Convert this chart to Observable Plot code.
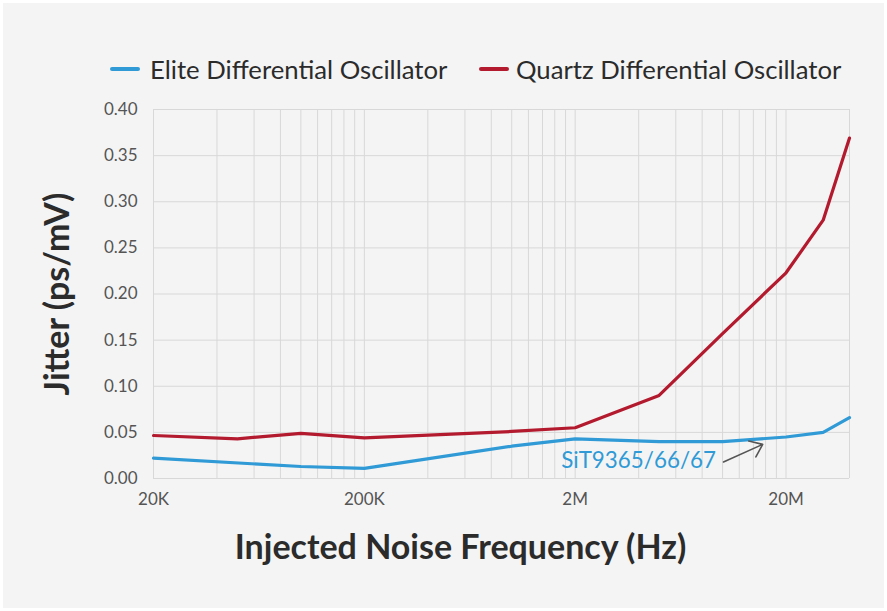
<!DOCTYPE html>
<html>
<head>
<meta charset="utf-8">
<script src="https://cdn.jsdelivr.net/npm/d3@7"></script>
<script src="https://cdn.jsdelivr.net/npm/@observablehq/plot@0.6"></script>
<style>
  html, body { margin: 0; padding: 0; background: #ffffff; }
  #page { position: relative; width: 887px; height: 611px; overflow: hidden; font-family: Lato, "Open Sans", sans-serif; }
  #panel { position: absolute; left: 3px; top: 3px; width: 881px; height: 605px; background: #f4f4f4; }
  #legend { position: absolute; left: 0; top: 0; width: 887px; height: 90px; }
  .sw { position: absolute; top: 67px; width: 30px; height: 3.5px; border-radius: 2px; }
  .lt { position: absolute; top: 55px; font-size: 25.7px; color: #2b2b2b; line-height: 28px; white-space: nowrap; }
  #chart { position: absolute; left: 0; top: 90px; }
</style>
</head>
<body>
<div id="page">
  <div id="panel"></div>
  <div id="legend"></div>
  <div id="chart"></div>
</div>
<script>
// Series names and colours
const seriesNames = ["Elite Differential Oscillator", "Quartz Differential Oscillator"];
const seriesColors = ["#2f9ad6", "#b31a2e"];

// Elite (MEMS) differential oscillator
const eliteFreq = [2e4, 1e5, 2e5, 1e6, 2e6, 5e6, 1e7, 2e7, 3e7, 4e7];
const eliteJitter = [0.022, 0.013, 0.011, 0.035, 0.043, 0.040, 0.040, 0.045, 0.050, 0.066];

// Quartz differential oscillator
const quartzFreq = [2e4, 5e4, 1e5, 2e5, 1e6, 2e6, 5e6, 1e7, 2e7, 3e7, 4e7];
const quartzJitter = [0.0466, 0.043, 0.049, 0.044, 0.051, 0.055, 0.090, 0.157, 0.223, 0.280, 0.369];

// Axes
const xDomain = [2e4, 4e7];
const xTicks = [2e4, 2e5, 2e6, 2e7];
const gridMultipliers = [1, 2, 3, 4, 5, 6, 7, 8, 9];
const yTicks = [0, 0.05, 0.10, 0.15, 0.20, 0.25, 0.30, 0.35, 0.40];
const yTitle = "Jitter (ps/mV)";
const xTitle = "Injected Noise Frequency (Hz)";

// Annotation
const annoLabel = ["SiT9365/66/67"];
const annoLabelX = [4.0e6];
const annoLabelY = [0.019];
const arrowFrom = [1.01e7, 0.018];
const arrowTo = [1.55e7, 0.037];

// Build data tables
const elite = eliteFreq.map((f, i) => ({f, j: eliteJitter[i], s: seriesNames[0]}));
const quartz = quartzFreq.map((f, i) => ({f, j: quartzJitter[i], s: seriesNames[1]}));
const gridX = xTicks.flatMap(d => gridMultipliers.map(m => d * m)).filter(v => v <= xDomain[1] * 1.0001);
const annos = annoLabel.map((t, i) => ({t, x: annoLabelX[i], y: annoLabelY[i]}));
const arrows = [{x1: arrowFrom[0], y1: arrowFrom[1], x2: arrowTo[0], y2: arrowTo[1]}];

const fmt = d => d >= 1e6 ? (d / 1e6) + "M" : (d / 1e3) + "K";

// Legend
const legend = document.getElementById("legend");
const legendPos = [[110, 150], [479, 516]];
seriesNames.forEach((n, i) => {
  const sw = document.createElement("div");
  sw.className = "sw";
  sw.style.left = legendPos[i][0] + "px";
  sw.style.background = seriesColors[i];
  legend.appendChild(sw);
  const t = document.createElement("div");
  t.className = "lt";
  t.style.left = legendPos[i][1] + "px";
  t.textContent = n;
  legend.appendChild(t);
});

const plot = Plot.plot({
  width: 887,
  height: 521,
  marginTop: 19,
  marginBottom: 133,
  marginLeft: 153,
  marginRight: 38,
  style: {background: "transparent", fontFamily: "Lato, sans-serif", fontSize: "17px", color: "#555"},
  x: {type: "log", domain: xDomain},
  y: {domain: [0, 0.4]},
  marks: [
    Plot.gridX(gridX, {stroke: "#d8d8d8", strokeOpacity: 1, strokeWidth: 1}),
    Plot.gridY(yTicks, {stroke: "#d8d8d8", strokeOpacity: 1, strokeWidth: 1}),
    Plot.axisY({ticks: yTicks, tickFormat: d => d.toFixed(2), tickSize: 0, tickPadding: 16, label: null}),
    Plot.axisX({ticks: xTicks, tickFormat: fmt, tickSize: 0, tickPadding: 14, label: null}),
    Plot.line(elite, {x: "f", y: "j", stroke: seriesColors[0], strokeWidth: 3.2, strokeLinejoin: "round"}),
    Plot.line(quartz, {x: "f", y: "j", stroke: seriesColors[1], strokeWidth: 3.2, strokeLinejoin: "round"}),
    Plot.text(annos, {x: "x", y: "y", text: "t", fill: seriesColors[0], fontSize: 22.4}),
    Plot.arrow(arrows, {x1: "x1", y1: "y1", x2: "x2", y2: "y2", stroke: "#555", strokeWidth: 1.6, headAngle: 75, headLength: 14}),
    Plot.text([yTitle], {text: d => d, frameAnchor: "left", textAnchor: "middle", lineAnchor: "middle", rotate: -90, dx: -95, fontSize: 34, fontWeight: "bold", fill: "#2b2b2b"}),
    Plot.text([xTitle], {text: d => d, frameAnchor: "bottom", textAnchor: "middle", lineAnchor: "middle", dx: -41, dy: 70, fontSize: 34, fontWeight: "bold", fill: "#2b2b2b"})
  ]
});
document.getElementById("chart").appendChild(plot);
</script>
</body>
</html>
